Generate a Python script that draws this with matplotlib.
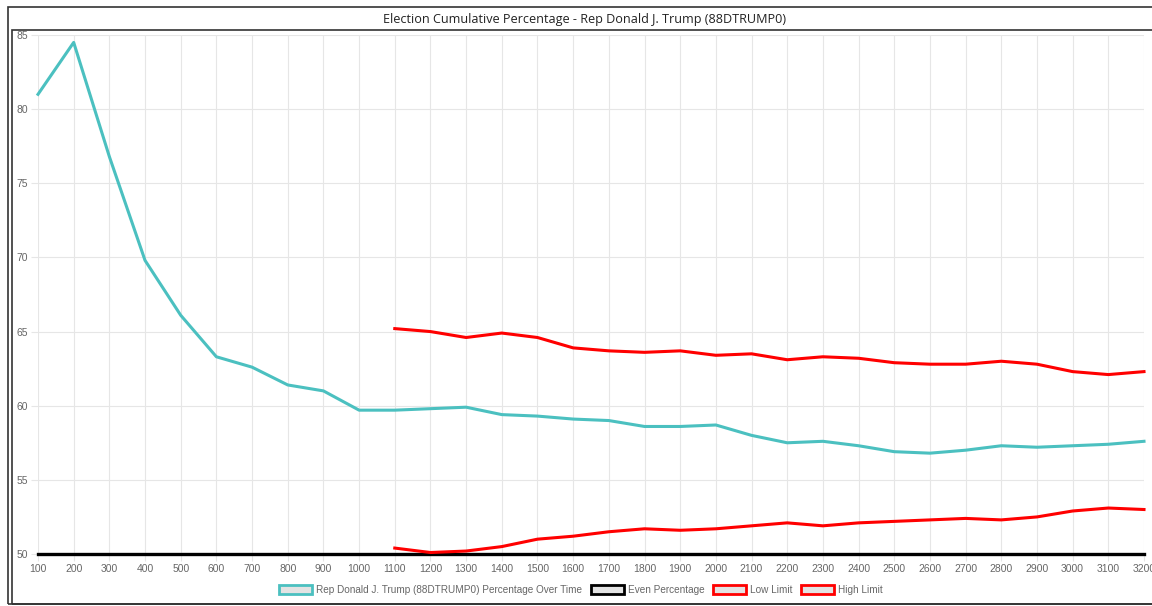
import matplotlib
matplotlib.use("Agg")
import matplotlib.pyplot as plt
from matplotlib.patches import Patch, Rectangle
import numpy as np

# ---- data ----
categories = ["100", "200", "300", "400", "500", "600", "700", "800", "900", "1000",
              "1100", "1200", "1300", "1400", "1500", "1600", "1700", "1800", "1900", "2000",
              "2100", "2200", "2300", "2400", "2500", "2600", "2700", "2800", "2900", "3000",
              "3100", "3200"]
trump_pct = [81.0, 84.5, 76.8, 69.8, 66.1, 63.3, 62.6, 61.4, 61.0, 59.7,
             59.7, 59.8, 59.9, 59.4, 59.3, 59.1, 59.0, 58.6, 58.6, 58.7,
             58.0, 57.5, 57.6, 57.3, 56.9, 56.8, 57.0, 57.3, 57.2, 57.3,
             57.4, 57.6]
even_pct = [50] * 32
nan = float("nan")
low_limit = [nan] * 10 + [50.4, 50.1, 50.2, 50.5, 51.0, 51.2, 51.5, 51.7, 51.6, 51.7,
                          51.9, 52.1, 51.9, 52.1, 52.2, 52.3, 52.4, 52.3, 52.5, 52.9,
                          53.1, 53.0]
high_limit = [nan] * 10 + [65.2, 65.0, 64.6, 64.9, 64.6, 63.9, 63.7, 63.6, 63.7, 63.4,
                           63.5, 63.1, 63.3, 63.2, 62.9, 62.8, 62.8, 63.0, 62.8, 62.3,
                           62.1, 62.3]
y_ticks = [50, 55, 60, 65, 70, 75, 80, 85]
title = "Election Cumulative Percentage - Rep Donald J. Trump (88DTRUMP0)"
legend_labels = ["Rep Donald J. Trump (88DTRUMP0) Percentage Over Time",
                 "Even Percentage", "Low Limit", "High Limit"]

TEAL = "#4bc0c0"
RED = "#ff0000"
GRID = "#e6e6e6"
TXT = "#666666"

W, H = 1152, 606
fig = plt.figure(figsize=(W / 100, H / 100), dpi=100)

def fx(px):
    return px / W

def fy(py):
    return 1 - py / H

# frames
frame_col = "#333333"
fig.add_artist(Rectangle((fx(8), fy(604)), fx(1200) - fx(8), fy(7) - fy(604),
                         transform=fig.transFigure, fill=False, edgecolor=frame_col, lw=1.2))
fig.add_artist(Rectangle((fx(12), fy(604)), fx(1200) - fx(12), fy(30) - fy(604),
                         transform=fig.transFigure, fill=False, edgecolor=frame_col, lw=1.2))

fig.text(fx(585), fy(19), title, ha="center", va="center", fontsize=9.1,
         family=["Open Sans", "DejaVu Sans"], color="#222222")

ax = fig.add_axes([fx(38), fy(554), fx(1144) - fx(38), fy(35) - fy(554)])
x = np.arange(len(categories))

ax.plot(x, even_pct, color="black", lw=2.4, zorder=3, clip_on=False)
ax.plot(x, trump_pct, color=TEAL, lw=2.2, zorder=4, clip_on=False)
ax.plot(x, low_limit, color=RED, lw=2.2, zorder=4, clip_on=False)
ax.plot(x, high_limit, color=RED, lw=2.2, zorder=4, clip_on=False)

ax.set_xlim(0, len(categories) - 1)
ax.set_ylim(50, 85)
ax.set_xticks(x)
ax.set_xticklabels(categories)
ax.set_yticks(y_ticks)
ax.set_yticklabels([str(v) for v in y_ticks])
ax.grid(True, color=GRID, lw=0.8, zorder=0)
ax.set_axisbelow(True)
for s in ax.spines.values():
    s.set_visible(False)
ax.tick_params(axis="both", length=5, width=0.8, color=GRID, labelcolor=TXT,
               labelsize=7.5)
ax.tick_params(axis="x", pad=2)
ax.tick_params(axis="y", pad=2)
for lab in ax.get_xticklabels() + ax.get_yticklabels():
    lab.set_family(["Liberation Sans", "DejaVu Sans"])

handles = [
    Patch(facecolor="#e3e3e3", edgecolor=TEAL, lw=2),
    Patch(facecolor="#e3e3e3", edgecolor="black", lw=2),
    Patch(facecolor="#e3e3e3", edgecolor=RED, lw=2),
    Patch(facecolor="#e3e3e3", edgecolor=RED, lw=2),
]
leg = fig.legend(handles, legend_labels, loc="center", bbox_to_anchor=(fx(581), fy(590)),
                 ncol=4, frameon=False, handlelength=3.3, handleheight=1.05,
                 handletextpad=0.4, columnspacing=0.85,
                 prop={"family": ["Liberation Sans", "DejaVu Sans"], "size": 7.2})
for t in leg.get_texts():
    t.set_color(TXT)

fig.savefig("out.png", dpi=100)
